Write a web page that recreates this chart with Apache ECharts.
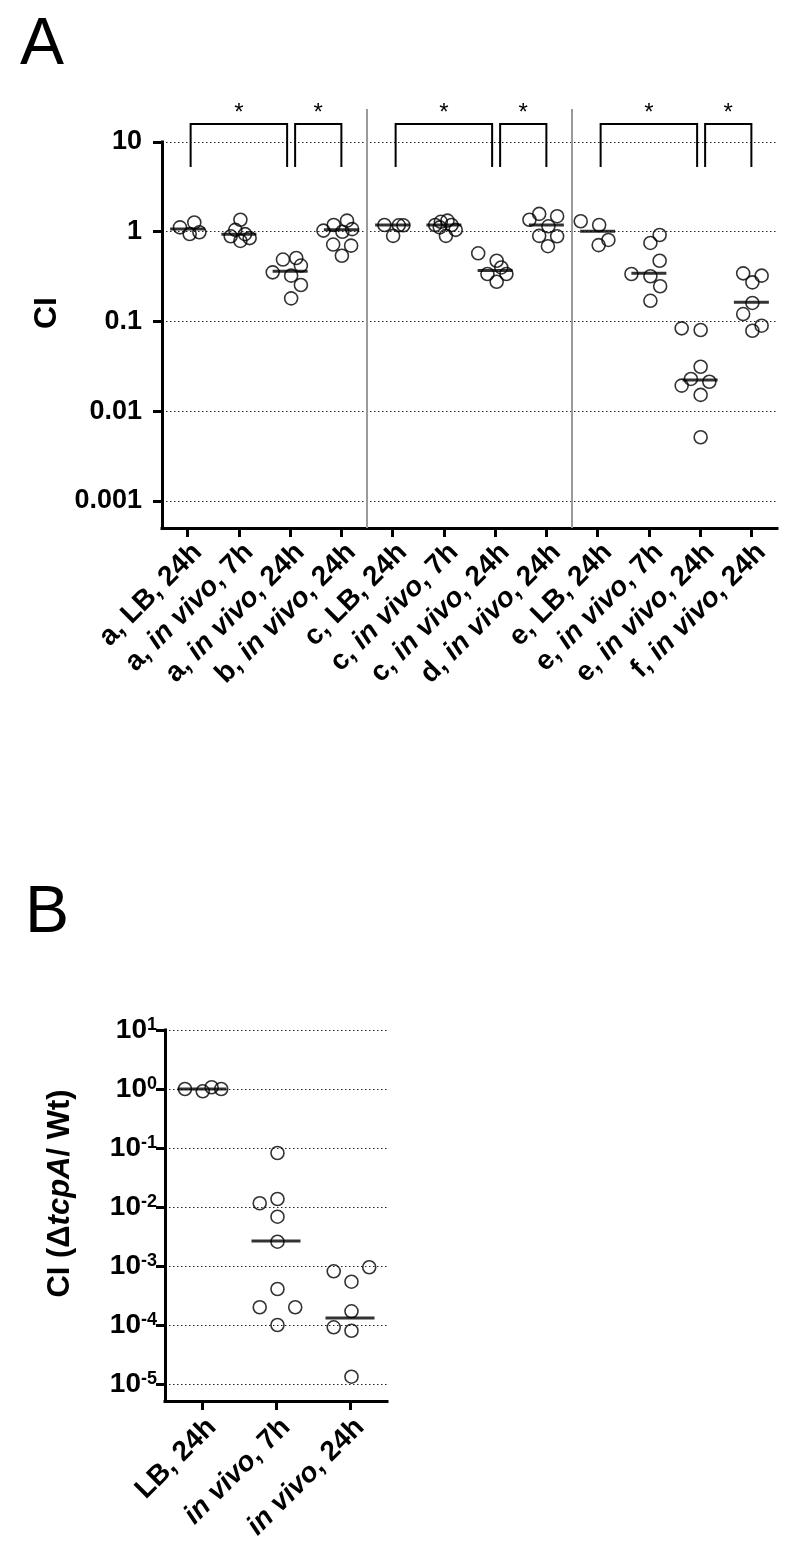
<!DOCTYPE html>
<html>
<head>
<meta charset="utf-8">
<script src="https://cdn.jsdelivr.net/npm/echarts@6/dist/echarts.min.js"></script>
<style>
html,body{margin:0;padding:0;background:#fff;}
#chart{width:800px;height:1562px;}
</style>
</head>
<body>
<div id="chart"></div>
<script>
// ---------- Panel A data ----------
const catsA = ['a, LB, 24h','a, in vivo, 7h','a, in vivo, 24h','b, in vivo, 24h',
  'c, LB, 24h','c, in vivo, 7h','c, in vivo, 24h','d, in vivo, 24h',
  'e, LB, 24h','e, in vivo, 7h','e, in vivo, 24h','f, in vivo, 24h'];
const valuesA = [
  [1.12, 1.27, 0.944, 0.986],
  [1.36, 1.05, 0.89, 0.79, 0.85, 0.94],
  [0.49, 0.51, 0.42, 0.353, 0.324, 0.255, 0.181],
  [1.03, 1.19, 1.33, 1.07, 1.0, 0.72, 0.70, 0.54],
  [1.19, 0.90, 1.18, 1.18],
  [1.19, 1.29, 1.33, 1.19, 0.90, 1.05, 1.12],
  [0.575, 0.475, 0.40, 0.338, 0.338, 0.277],
  [1.36, 1.58, 1.49, 1.15, 0.90, 0.89, 0.69],
  [1.31, 1.19, 0.81, 0.71],
  [0.92, 0.75, 0.475, 0.338, 0.319, 0.247, 0.170],
  [0.0839, 0.0804, 0.0313, 0.0229, 0.0193, 0.0213, 0.0152, 0.00513],
  [0.344, 0.324, 0.273, 0.161, 0.121, 0.0898, 0.0789]
];
// horizontal scatter of each point, in category-band units
const jitterA = [
  [-0.15, 0.13, 0.04, 0.23],
  [0.03, -0.07, -0.16, 0.03, 0.21, 0.12],
  [-0.14, 0.12, 0.21, -0.34, 0.02, 0.21, 0.02],
  [-0.35, -0.15, 0.11, 0.21, 0.02, -0.16, 0.19, 0.01],
  [-0.16, 0.01, 0.12, 0.21],
  [-0.17, -0.06, 0.07, 0.15, 0.04, 0.23, -0.08],
  [-0.33, 0.03, 0.12, -0.15, 0.22, 0.03],
  [-0.33, -0.14, 0.21, 0.04, -0.14, 0.21, 0.03],
  [-0.33, 0.03, 0.21, 0.02],
  [0.21, 0.03, 0.21, -0.34, 0.03, 0.22, 0.03],
  [-0.36, 0.01, 0.01, -0.18, -0.36, 0.18, 0.01, 0.01],
  [-0.16, 0.20, 0.02, 0.02, -0.16, 0.20, 0.02]
];
const mediansA = [1.07, 0.94, 0.362, 1.05, 1.19, 1.19, 0.37, 1.19, 1.01, 0.344, 0.0223, 0.164];
const ticksA = [0.001, 0.01, 0.1, 1, 10];
const tickLabelsA = ['0.001', '0.01', '0.1', '1', '10'];
const bracketsA = [[0, 2, '*'], [2, 3, '*'], [4, 6, '*'], [6, 7, '*'], [8, 10, '*'], [10, 11, '*']];
const separatorsA = [3, 7]; // separator after these category indexes

// ---------- Panel B data ----------
const catsB = ['LB, 24h', 'in vivo, 7h', 'in vivo, 24h'];
const valuesB = [
  [1.0, 0.914, 1.07, 1.0],
  [0.0822, 0.01156, 0.01367, 0.00685, 0.00258, 0.000407, 0.0002, 0.0002, 0.0001],
  [0.000813, 0.000951, 0.000542, 0.0001706, 0.0000914, 0.00008, 0.0000133]
];
const jitterB = [
  [-0.23, 0.01, 0.13, 0.26],
  [0.02, -0.22, 0.02, 0.02, 0.02, 0.02, -0.22, 0.26, 0.02],
  [-0.22, 0.26, 0.02, 0.02, -0.22, 0.02, 0.02]
];
const mediansB = [1.0, 0.00265, 0.000131];
const ticksB = [1e-5, 1e-4, 1e-3, 1e-2, 1e-1, 1, 10];
const tickExpB = ['-5', '-4', '-3', '-2', '-1', '0', '1'];

// ---------- helpers ----------
const FONT = 'Liberation Sans, Arial, Helvetica, sans-serif';
function richCat(s) {
  const k = s.indexOf('in vivo');
  if (k < 0) return '{n|' + s + '}';
  return (k > 0 ? '{n|' + s.slice(0, k) + '}' : '') + '{i|in vivo}' + '{n|' + s.slice(k + 7) + '}';
}
function findTick(ticks, v) {
  return ticks.findIndex(t => Math.abs(Math.log10(t) - Math.log10(v)) < 1e-6);
}
function pts(values, jitter) {
  const out = [];
  values.forEach((arr, i) => arr.forEach((v, j) => out.push([i + jitter[i][j], v])));
  return out;
}
const axisBlack = {show: true, onZero: false, lineStyle: {color: '#000', width: 3, cap: 'square'}};
const dotted = {show: true, lineStyle: {color: '#222', width: 1, type: [1.5, 2.5]}};
const catRich = {
  n: {fontFamily: FONT, fontSize: 28, fontWeight: 'bold', color: '#000'},
  i: {fontFamily: FONT, fontSize: 28, fontWeight: 'bold', fontStyle: 'italic', color: '#000'}
};

const chart = echarts.init(document.getElementById('chart'), null, {renderer: 'canvas'});
chart.setOption({
  animation: false,
  backgroundColor: '#fff',
  graphic: [
    {type: 'text', left: 20, top: 13, style: {text: 'A', font: '66px ' + FONT, fill: '#000'}},
    {type: 'text', left: 25, top: 881, style: {text: 'B', font: '66px ' + FONT, fill: '#000'}}
  ],
  grid: [
    {left: 162, top: 142, width: 615, height: 386},
    {left: 165, top: 1030, width: 222, height: 371}
  ],
  xAxis: [
    {
      type: 'category', gridIndex: 0, data: catsA, boundaryGap: true,
      axisLine: axisBlack,
      axisTick: {show: true, alignWithLabel: true, length: 9, lineStyle: {color: '#000', width: 3}},
      axisLabel: {interval: 0, rotate: 45, margin: 10, verticalAlign: 'top', formatter: richCat, rich: catRich},
      splitLine: {show: false}
    },
    {type: 'value', gridIndex: 0, min: -0.5, max: 11.5, show: false},
    {
      type: 'category', gridIndex: 1, data: catsB, boundaryGap: true,
      axisLine: axisBlack,
      axisTick: {show: true, alignWithLabel: true, length: 9, lineStyle: {color: '#000', width: 3}},
      axisLabel: {interval: 0, rotate: 45, margin: 12, verticalAlign: 'top', formatter: richCat, rich: catRich},
      splitLine: {show: false}
    },
    {type: 'value', gridIndex: 1, min: -0.5, max: 2.5, show: false}
  ],
  yAxis: [
    {
      type: 'log', logBase: 10, gridIndex: 0, min: 0.0005, max: 10,
      axisLine: axisBlack,
      axisTick: {show: true, length: 9, lineStyle: {color: '#000', width: 3}, customValues: ticksA},
      axisLabel: {
        customValues: ticksA, margin: 20,
        fontFamily: FONT, fontSize: 27, fontWeight: 'bold', color: '#000',
        formatter: v => { const i = findTick(ticksA, v); return i >= 0 ? tickLabelsA[i] : ''; }
      },
      splitLine: dotted,
      name: 'CI', nameLocation: 'middle', nameGap: 94,
      nameTextStyle: {fontFamily: FONT, fontSize: 32, fontWeight: 'bold', color: '#000', padding: [0, 0, 0, 44]}
    },
    {
      type: 'log', logBase: 10, gridIndex: 1, min: 5.15e-6, max: 10,
      axisLine: axisBlack,
      axisTick: {show: true, length: 9, lineStyle: {color: '#000', width: 3}, customValues: ticksB},
      axisLabel: {
        customValues: ticksB, margin: 8,
        formatter: v => { const i = findTick(ticksB, v); return i >= 0 ? '{b|10}{s|' + tickExpB[i] + '}' : ''; },
        rich: {
          b: {fontFamily: FONT, fontSize: 28, fontWeight: 'bold', color: '#000'},
          s: {fontFamily: FONT, fontSize: 18, fontWeight: 'bold', color: '#000', verticalAlign: 'top', padding: [0, 0, 4, 0]}
        }
      },
      splitLine: dotted,
      name: '{n|CI (Δ}{i|tcpA}{n|/ Wt)}', nameLocation: 'middle', nameGap: 89,
      nameTextStyle: {
        padding: [0, 0, 0, 44],
        rich: {
          n: {fontFamily: FONT, fontSize: 31, fontWeight: 'bold', color: '#000'},
          i: {fontFamily: FONT, fontSize: 31, fontWeight: 'bold', fontStyle: 'italic', color: '#000'}
        }
      }
    }
  ],
  series: [
    {
      type: 'scatter', xAxisIndex: 1, yAxisIndex: 0, silent: true,
      symbol: 'circle', symbolSize: 13,
      itemStyle: {color: 'rgba(0,0,0,0)', borderColor: '#000', borderWidth: 1.6},
      data: pts(valuesA, jitterA), z: 3
    },
    {
      type: 'scatter', xAxisIndex: 0, yAxisIndex: 0, silent: true,
      symbol: 'rect', symbolSize: [35, 3],
      itemStyle: {color: '#000'}, data: mediansA, z: 4
    },
    {
      type: 'custom', xAxisIndex: 0, yAxisIndex: 0, silent: true, clip: false, z: 5,
      data: bracketsA.map(b => [b[0], b[1], 10]),
      encode: {x: 0, y: 2},
      renderItem: (params, api) => {
        const a = api.value(0), b = api.value(1);
        const pa = api.coord([a, 10]), pb = api.coord([b, 10]);
        const first = (b - a) === 2;
        const x1 = pa[0] + (first ? 3 : 5), x2 = pb[0] + (first ? -3 : 0);
        const yTop = pa[1] - 18, yBot = pa[1] + 25;
        return {
          type: 'group',
          children: [
            {type: 'polyline', shape: {points: [[x1, yBot], [x1, yTop], [x2, yTop], [x2, yBot]]},
             style: {stroke: '#000', lineWidth: 2, fill: null}},
            {type: 'text', style: {text: bracketsA[params.dataIndex][2], x: (x1 + x2) / 2, y: yTop - 11,
             align: 'center', verticalAlign: 'middle', fontFamily: FONT, fontSize: 24, fill: '#000'}}
          ]
        };
      }
    },
    {
      type: 'custom', xAxisIndex: 0, yAxisIndex: 0, silent: true, clip: false, z: 1,
      data: separatorsA.map(s => [s, 10]),
      renderItem: (params, api) => {
        const i = api.value(0);
        const p0 = api.coord([i, 10]), p1 = api.coord([i + 1, 10]);
        const pBot = api.coord([i, 0.0005]);
        const x = (p0[0] + p1[0]) / 2;
        return {type: 'line', shape: {x1: x, y1: pBot[1], x2: x, y2: p0[1] - 33},
                style: {stroke: '#9a9a9a', lineWidth: 2}};
      }
    },
    {
      type: 'scatter', xAxisIndex: 3, yAxisIndex: 1, silent: true,
      symbol: 'circle', symbolSize: 13,
      itemStyle: {color: 'rgba(0,0,0,0)', borderColor: '#000', borderWidth: 1.6},
      data: pts(valuesB, jitterB), z: 3
    },
    {
      type: 'scatter', xAxisIndex: 2, yAxisIndex: 1, silent: true,
      symbol: 'rect', symbolSize: [49, 3],
      itemStyle: {color: '#000'}, data: mediansB, z: 4
    }
  ]
});
</script>
</body>
</html>
